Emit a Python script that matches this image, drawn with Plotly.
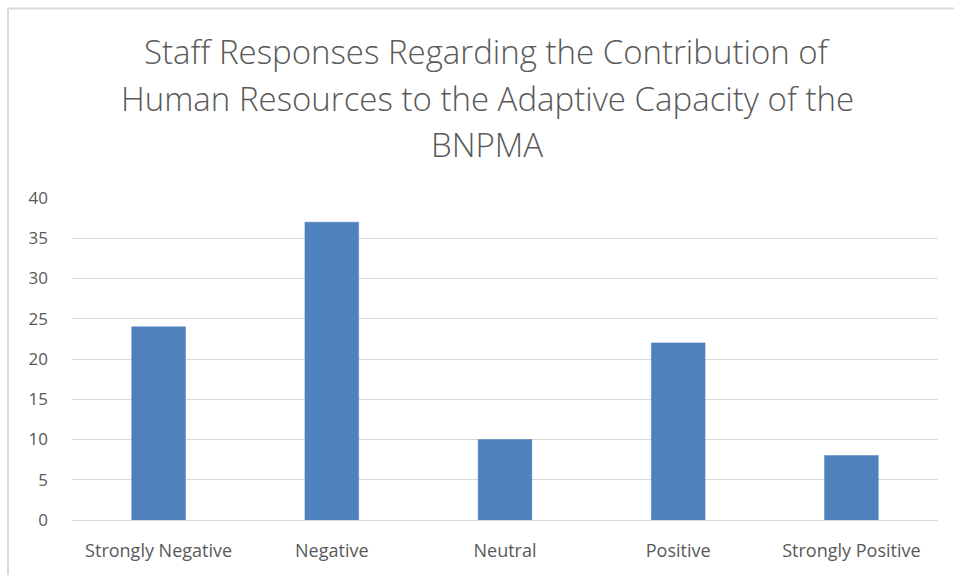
import plotly.graph_objects as go

# Survey responses
categories = ["Strongly Negative", "Negative", "Neutral", "Positive", "Strongly Positive"]
counts = [24, 37, 10, 22, 8]
y_ticks = [0, 5, 10, 15, 20, 25, 30, 35, 40]
title_lines = [
    "Staff Responses Regarding the Contribution of",
    "Human Resources to the Adaptive Capacity of the",
    "BNPMA",
]

W, H = 954, 575
L, R, T, B = 72, 16, 198, 55
plot_w = W - L - R
plot_h = H - T - B


def px_x(x):
    return (x - L) / plot_w


def px_y(y):
    return (H - B - y) / plot_h


text_grey = "#595959"
title_font = "'Open Sans', sans-serif"
tick_font = "'Open Sans', sans-serif"

fig = go.Figure(
    go.Bar(
        x=categories,
        y=counts,
        marker=dict(color="#4F81BD", line=dict(color="#4A7EBB", width=0.5)),
        hoverinfo="x+y",
    )
)

# three-line heading, one annotation per line for even spacing
line_centres = [52, 98, 144]
annotations = [
    dict(
        text=txt,
        xref="paper", yref="paper",
        x=px_x(487), y=px_y(yc),
        xanchor="center", yanchor="middle",
        showarrow=False,
        font=dict(family=title_font, size=33, color=text_grey, weight=300),
    )
    for txt, yc in zip(title_lines, line_centres)
]

fig.update_layout(
    width=W,
    height=H,
    margin=dict(l=L, r=R, t=T, b=B),
    paper_bgcolor="white",
    plot_bgcolor="white",
    bargap=0.69,
    showlegend=False,
    font=dict(family=tick_font, color=text_grey),
    annotations=annotations,
    shapes=[
        # chart frame: top and left edges
        dict(type="line", xref="paper", yref="paper",
             x0=px_x(8), x1=px_x(W + 10), y0=px_y(8.5), y1=px_y(8.5),
             line=dict(color="#d9d9d9", width=2)),
        dict(type="line", xref="paper", yref="paper",
             x0=px_x(8), x1=px_x(8), y0=px_y(8.5), y1=px_y(H + 10),
             line=dict(color="#d9d9d9", width=2)),
    ],
)

fig.update_xaxes(
    showgrid=False,
    showline=False,
    zeroline=False,
    ticks="",
    ticklabelstandoff=18,
    tickfont=dict(family=tick_font, size=18, color=text_grey),
)

fig.update_yaxes(
    range=[0, 40],
    tickvals=y_ticks,
    showgrid=True,
    gridcolor="#d9d9d9",
    gridwidth=1,
    zeroline=True,
    zerolinecolor="#d9d9d9",
    zerolinewidth=1,
    showline=False,
    ticks="",
    ticklabelstandoff=23,
    tickfont=dict(family=tick_font, size=17, color=text_grey),
)

fig.write_html("out.html")
